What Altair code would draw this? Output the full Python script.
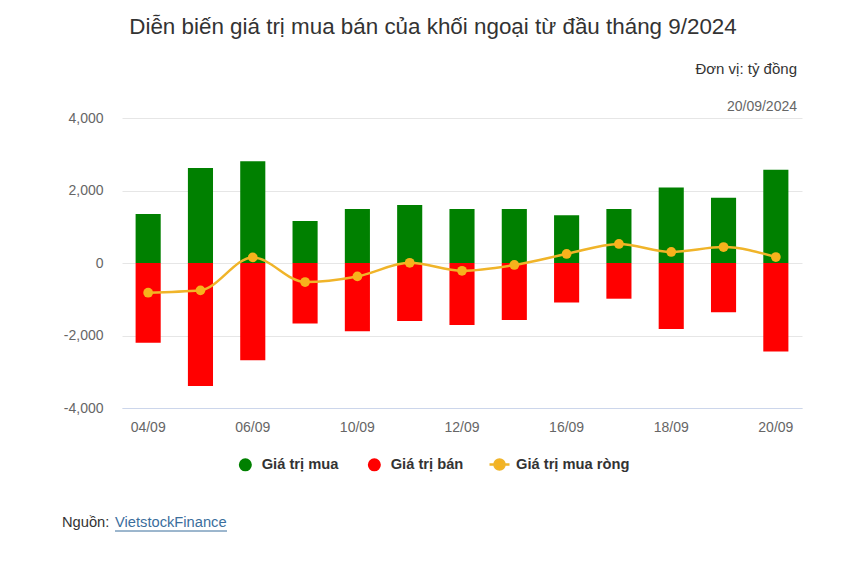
import altair as alt
import pandas as pd

# ---- data ----
dates = ["04/09", "05/09", "06/09", "09/09", "10/09", "11/09", "12/09",
         "13/09", "16/09", "17/09", "18/09", "19/09", "20/09"]
buy = [1350, 2620, 2810, 1160, 1490, 1600, 1490, 1490, 1320, 1490, 2080, 1800, 2570]
sell = [-2200, -3390, -2680, -1670, -1880, -1600, -1710, -1570, -1090, -985, -1820, -1360, -2440]
net = [-820, -755, 155, -525, -370, 5, -215, -55, 250, 525, 305, 440, 165]

shown_ticks = ["04/09", "06/09", "10/09", "12/09", "16/09", "18/09", "20/09"]
y_ticks = [-4000, -2000, 0, 2000, 4000]

BUY_LABEL = "Giá trị mua"
SELL_LABEL = "Giá trị bán"
NET_LABEL = "Giá trị mua ròng"

TITLE = "Diễn biến giá trị mua bán của khối ngoại từ đầu tháng 9/2024"
UNIT = "Đơn vị: tỷ đồng"
DATE_NOTE = "20/09/2024"
SOURCE_PREFIX = "Nguồn:"
SOURCE_LINK = "VietstockFinance"

FONT = "Liberation Sans"
W, H = 680, 290

bars_df = pd.DataFrame(
    [{"date": d, "series": BUY_LABEL, "value": v} for d, v in zip(dates, buy)]
    + [{"date": d, "series": SELL_LABEL, "value": v} for d, v in zip(dates, sell)]
)
net_df = pd.DataFrame({"date": dates, "value": net, "series": [NET_LABEL] * len(dates)})

x_enc = alt.X(
    "date:N", sort=dates, title=None,
    scale=alt.Scale(paddingInner=0.52, paddingOuter=0.26),
    axis=alt.Axis(values=shown_ticks, labelAngle=0, ticks=False, domain=True,
                  domainColor="#ccd6eb", labelFontSize=14, labelColor="#666666",
                  labelFont=FONT, labelPadding=12, grid=False),
)
y_scale = alt.Scale(domain=[-4000, 4000], nice=False)
y_axis = alt.Axis(values=y_ticks, title=None, domain=False, ticks=False,
                  labelExpr="replace(format(datum.value, ',.0f'), '\u2212', '-')",
                  labelFontSize=14, labelColor="#666666", labelFont=FONT,
                  labelPadding=19, gridColor="#e6e6e6", gridWidth=1)

bars = alt.Chart(bars_df).mark_bar().encode(
    x=x_enc,
    y=alt.Y("value:Q", scale=y_scale, axis=y_axis, stack=None),
    color=alt.Color(
        "series:N",
        scale=alt.Scale(domain=[BUY_LABEL, SELL_LABEL], range=["#008000", "#ff0000"]),
        legend=alt.Legend(orient="none", legendX=116, legendY=339, direction="horizontal",
                          title=None, symbolType="circle", symbolSize=170,
                          symbolStrokeWidth=0, labelFontSize=14.7, labelFontWeight="bold",
                          labelColor="#333333", labelFont=FONT, columnPadding=28,
                          labelOffset=9, padding=0),
    ),
)

line = alt.Chart(net_df).mark_line(interpolate="monotone", strokeWidth=2.5, color="#f0b429").encode(
    x=alt.X("date:N", sort=dates),
    y=alt.Y("value:Q", scale=y_scale, axis=y_axis),
)

legend_path = "M-1,0L1,0M-0.5,0A0.5,0.5,0,1,0,0.5,0A0.5,0.5,0,1,0,-0.5,0Z"
points = alt.Chart(net_df).mark_point(filled=True, size=95, opacity=1).encode(
    x=alt.X("date:N", sort=dates),
    y=alt.Y("value:Q", scale=y_scale, axis=y_axis),
    fill=alt.Fill(
        "series:N",
        scale=alt.Scale(domain=[NET_LABEL], range=["#f7b21c"]),
        legend=alt.Legend(orient="none", legendX=366, legendY=335, direction="horizontal",
                          title=None, symbolType=legend_path, symbolSize=400,
                          symbolStrokeColor="#f0b429", symbolStrokeWidth=2.5,
                          labelFontSize=14.7, labelFontWeight="bold", labelColor="#333333",
                          labelFont=FONT, labelOffset=5, padding=0),
    ),
)

text_df = pd.DataFrame({"title": [TITLE], "unit": [UNIT], "note": [DATE_NOTE],
                        "src": [SOURCE_PREFIX], "link": [SOURCE_LINK]})

title_text = alt.Chart(text_df).mark_text(
    align="center", baseline="middle", fontSize=22.4, color="#333333", font=FONT
).encode(x=alt.value(311), y=alt.value(-91), text="title:N")

unit_text = alt.Chart(text_df).mark_text(
    align="right", baseline="middle", fontSize=15, color="#333333", font=FONT
).encode(x=alt.value(W - 5), y=alt.value(-49), text="unit:N")

note_text = alt.Chart(text_df).mark_text(
    align="right", baseline="middle", fontSize=14, color="#666666", font=FONT
).encode(x=alt.value(W - 5), y=alt.value(-11), text="note:N")

src_text = alt.Chart(text_df).mark_text(
    align="left", baseline="middle", fontSize=14.7, color="#333333", font=FONT
).encode(x=alt.value(-60), y=alt.value(405), text="src:N")

link_text = alt.Chart(text_df).mark_text(
    align="left", baseline="middle", fontSize=14.7, color="#3b6e9c", font=FONT
).encode(x=alt.value(-7), y=alt.value(405), text="link:N")

underline = alt.Chart(text_df).mark_rule(color="#3b6e9c", strokeWidth=1).encode(
    x=alt.value(-7), x2=alt.value(105), y=alt.value(413)
)

chart = (
    alt.layer(bars, line, points, title_text, unit_text, note_text, src_text, link_text, underline)
    .resolve_scale(color="independent", fill="independent")
    .properties(
        width=W, height=H,
        background="white",
        autosize=alt.AutoSizeParams(type="none"),
        padding={"left": 114, "top": 110, "right": 46, "bottom": 150},
    )
    .configure_view(strokeWidth=0, stroke="transparent")
)

chart.save("out.html", embed_options={"renderer": "svg", "actions": False})
